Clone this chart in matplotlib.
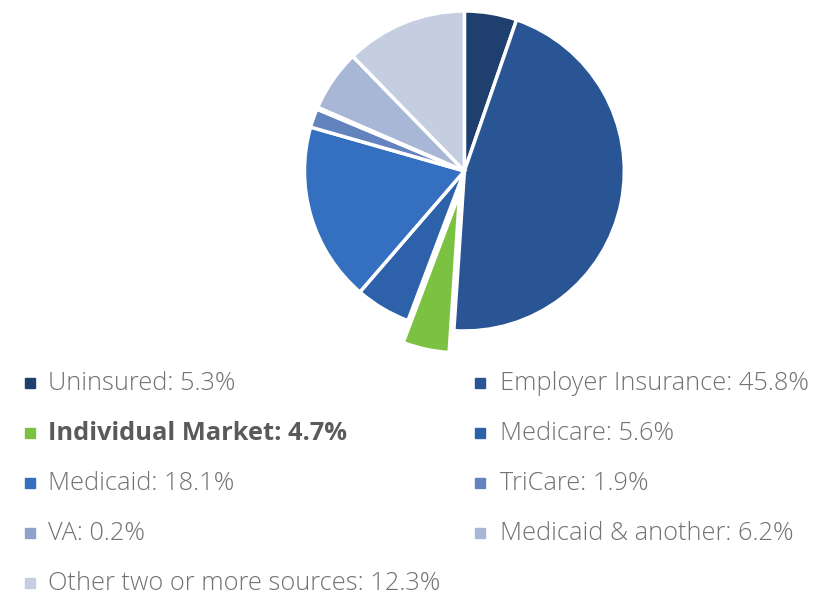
import matplotlib
matplotlib.use("Agg")
import matplotlib.pyplot as plt

# 医保来源构成
labels = ["Uninsured", "Employer Insurance", "Individual Market", "Medicare",
          "Medicaid", "TriCare", "VA", "Medicaid & another",
          "Other two or more sources"]
shares = [5.3, 45.8, 4.7, 5.6, 18.1, 1.9, 0.2, 6.2, 12.3]
colors = ["#1f3f6f", "#2a5595", "#7cc242", "#2d62ab", "#3470bf",
          "#6383bf", "#8ea2cb", "#a8b7d6", "#c5cee1"]
highlight = "Individual Market"

fig = plt.figure(figsize=(8.33, 5.97), dpi=100)

# 饼图
ax = fig.add_axes([0.3655, 0.4456, 0.384, 0.536])
explode = [0.14 if l == highlight else 0 for l in labels]
wedges, _ = ax.pie(shares, colors=colors, startangle=90, counterclock=False,
                   explode=explode, radius=1,
                   wedgeprops=dict(edgecolor="white", linewidth=2.5))
for w in wedges:
    w.set_clip_on(False)
ax.set_xlim(-1, 1)
ax.set_ylim(-1, 1)
ax.set_aspect("auto")
ax.axis("off")

# 图例（两列）
W, H = 833, 597
for i, (lab, val, c) in enumerate(zip(labels, shares, colors)):
    col, row = i % 2, i // 2
    mx = 25 if col == 0 else 475
    tx = 48 if col == 0 else 500
    y = 383 + row * 50
    fig.patches.append(plt.Rectangle((mx / W, 1 - (y + 5) / H), 10 / W, 10 / H,
                                     transform=fig.transFigure, color=c))
    bold = lab == highlight
    fig.text(tx / W, 1 - y / H, f"{lab}: {val}%", fontsize=18.3,
             family="Open Sans", fontweight="bold" if bold else "light",
             color="#5a5a5a" if bold else "#727272", va="center", ha="left")

fig.savefig("out.png", dpi=100)
